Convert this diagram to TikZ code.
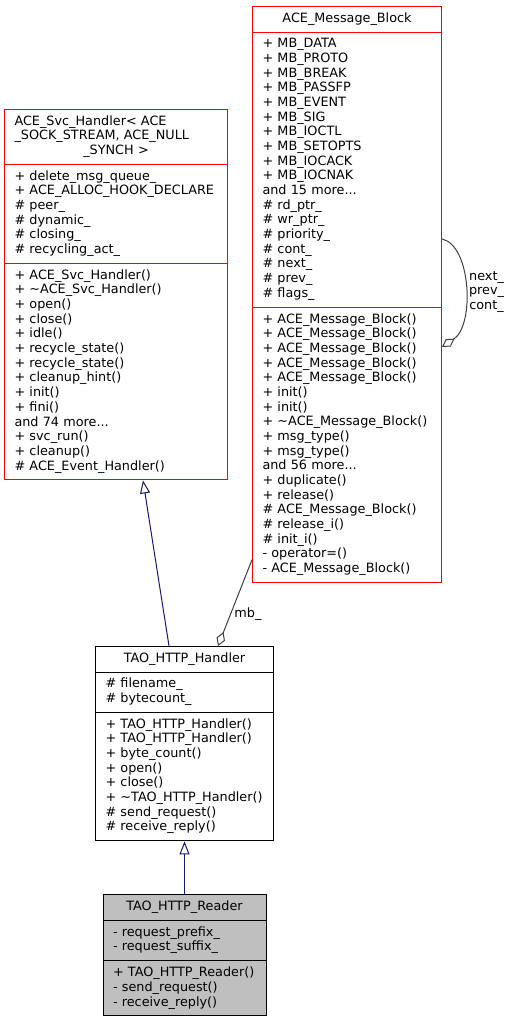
\documentclass[tikz,border=0pt]{standalone}
\usepackage{fontspec}
\setmainfont{DejaVu Sans}
\usetikzlibrary{shapes.multipart, positioning, arrows.meta}

\definecolor{edgeblue}{HTML}{191970}
\definecolor{edgegray}{HTML}{404040}
\definecolor{readerfill}{HTML}{BFBFBF}

% centred line inside a class box
\newcommand{\midline}[1]{\hbox to\hsize{\hfil\strut #1\hfil}}

\begin{document}
\begin{tikzpicture}[
    x=1pt, y=-1pt,
    every node/.style={font=\fontsize{12.8}{14.67}\selectfont},
    class/.style={
        draw,
        line width=1pt,
        rectangle split,
        rectangle split parts=3,
        inner xsep=10pt,
        inner ysep=5pt,
        align=left,
        anchor=north west
    },
    extclass/.style={class, draw=red},
    inherit/.style={edgeblue, line width=1pt, -{Triangle[open, length=13pt, width=10pt]}},
    member/.style={edgegray, line width=1pt, -{Diamond[open, length=15pt, width=9pt]}}
]
\useasboundingbox (0,0) rectangle (511,1019);

% classes
\node[extclass, text width=169pt] (mb) at (252,6) {\midline{ACE\_Message\_Block}
\nodepart{two}\strut + MB\_DATA\\ + MB\_PROTO\\ + MB\_BREAK\\ + MB\_PASSFP\\ + MB\_EVENT\\ + MB\_SIG\\
+ MB\_IOCTL\\ + MB\_SETOPTS\\ + MB\_IOCACK\\ + MB\_IOCNAK\\ and 15 more...\\ \# rd\_ptr\_\\
\# wr\_ptr\_\\ \# priority\_\\ \# cont\_\\ \# next\_\\ \# prev\_\\ \# flags\_\strut
\nodepart{three}\strut + ACE\_Message\_Block()\\ + ACE\_Message\_Block()\\ + ACE\_Message\_Block()\\
+ ACE\_Message\_Block()\\ + ACE\_Message\_Block()\\ + init()\\ + init()\\
+ \textasciitilde ACE\_Message\_Block()\\ + msg\_type()\\ + msg\_type()\\ and 56 more...\\
+ duplicate()\\ + release()\\ \# ACE\_Message\_Block()\\ \# release\_i()\\ \# init\_i()\\
- operator=()\\ - ACE\_Message\_Block()\strut};

\node[extclass, text width=203pt] (svc) at (4,109) {\strut ACE\_Svc\_Handler< ACE\\
\_SOCK\_STREAM, ACE\_NULL\\ \midline{\_SYNCH >}
\nodepart{two}\strut + delete\_msg\_queue\_\\ + ACE\_ALLOC\_HOOK\_DECLARE\\ \# peer\_\\ \# dynamic\_\\
\# closing\_\\ \# recycling\_act\_\strut
\nodepart{three}\strut + ACE\_Svc\_Handler()\\ + \textasciitilde ACE\_Svc\_Handler()\\ + open()\\ + close()\\
+ idle()\\ + recycle\_state()\\ + recycle\_state()\\ + cleanup\_hint()\\ + init()\\ + fini()\\
and 74 more...\\ + svc\_run()\\ + cleanup()\\ \# ACE\_Event\_Handler()\strut};

\node[class, text width=158pt] (handler) at (95,646) {\midline{TAO\_HTTP\_Handler}
\nodepart{two}\strut \# filename\_\\ \# bytecount\_\strut
\nodepart{three}\strut + TAO\_HTTP\_Handler()\\ + TAO\_HTTP\_Handler()\\ + byte\_count()\\ + open()\\
+ close()\\ + \textasciitilde TAO\_HTTP\_Handler()\\ \# send\_request()\\ \# receive\_reply()\strut};

\node[class, text width=143pt, fill=readerfill, below=53pt of handler] (reader) {\midline{TAO\_HTTP\_Reader}
\nodepart{two}\strut - request\_prefix\_\\ - request\_suffix\_\strut
\nodepart{three}\strut + TAO\_HTTP\_Reader()\\ - send\_request()\\ - receive\_reply()\strut};

% relations
\draw[inherit] ([xshift=74pt]handler.north west) -- ([xshift=139pt]svc.south west);
\draw[inherit] (reader) -- (handler);

\draw[member] ([yshift=23pt]mb.south west) -- node[pos=0.63, right, text=black] {mb\_}
    ([xshift=123pt]handler.north west);
\draw[member] ([yshift=-233pt]mb.north east) .. controls +(29,6) and +(33,-22) ..
    node[pos=0.5, right, align=center, yshift=-5pt, text=black] {next\_\\prev\_\\cont\_}
    ([yshift=-341pt]mb.north east);

\end{tikzpicture}
\end{document}
